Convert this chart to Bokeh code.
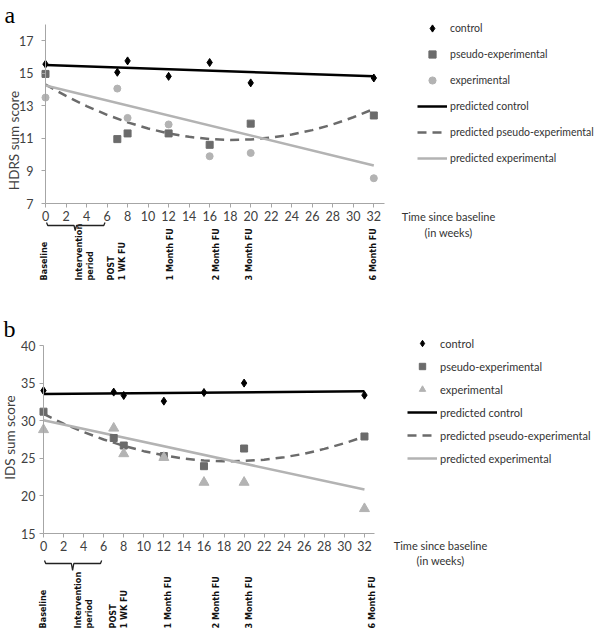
import math
from bokeh.plotting import figure
from bokeh.layouts import column
from bokeh.models import Range1d, FixedTicker, Legend, LegendItem, Label, PolyAnnotation
from bokeh.embed import file_html
from bokeh.resources import INLINE

# ---------------- data ----------------
weeks = [0, 7, 8, 12, 16, 20, 32]

hdrs_control = [15.55, 15.05, 15.75, 14.8, 15.65, 14.4, 14.7]
hdrs_pseudo = [14.95, 10.95, 11.3, 11.3, 10.6, 11.9, 12.4]
hdrs_experimental = [13.5, 14.05, 12.25, 11.85, 9.9, 10.1, 8.55]

line_weeks = [0, 32]
pred_weeks = [0, 2, 4, 6, 8, 10, 12, 14, 16, 18, 20, 22, 24, 26, 28, 30, 32]
hdrs_pred_control = [15.5, 14.8]
hdrs_pred_pseudo = [14.3, 13.6, 12.98, 12.44, 11.98, 11.6, 11.3, 11.09, 10.95,
                    10.9, 10.93, 11.04, 11.23, 11.5, 11.85, 12.29, 12.8]
hdrs_pred_experimental = [14.24, 9.33]

ids_control = [34.0, 33.8, 33.35, 32.6, 33.75, 35.0, 33.4]
ids_pseudo = [31.2, 27.7, 26.7, 25.3, 23.95, 26.3, 27.9]
ids_experimental = [28.8, 29.0, 25.6, 25.1, 21.8, 21.8, 18.3]
ids_pred_control = [33.55, 33.9]
ids_pred_pseudo = [30.9, 29.6, 28.5, 27.5, 26.65, 25.95, 25.4, 24.95, 24.7,
                   24.6, 24.65, 24.8, 25.15, 25.6, 26.25, 27.0, 27.9]
ids_pred_experimental = [30.05, 20.85]

x_ticks = [0, 2, 4, 6, 8, 10, 12, 14, 16, 18, 20, 22, 24, 26, 28, 30, 32]
hdrs_y_ticks = [7, 9, 11, 13, 15, 17]
ids_y_ticks = [15, 20, 25, 30, 35, 40]

milestone_labels = [["Baseline"], ["Intervention", "period"], ["POST", "1 WK FU"],
                    ["1 Month FU"], ["2 Month FU"], ["3 Month FU"], ["6 Month FU"]]
intervention_span = [0.1, 2.9, 5.8]   # weeks: start, middle, end of intervention

legend_labels = ["control", "pseudo-experimental", "experimental", "predicted control",
                 "predicted pseudo-experimental", "predicted experimental"]
time_text = ["Time since baseline", "(in weeks)"]

# ---------------- style ----------------
FONT = "Lato"
NARROW = "'DejaVu Sans Condensed', 'Liberation Sans Narrow', 'Roboto Condensed', Lato, sans-serif"
AXIS_GRAY = "#a6a6a6"
TICK_TEXT = "#404040"
BLACK = "#000000"
DARK = "#6b6b6b"
LIGHT = "#b3b3b3"
W = 600


def make_panel(letter, ylabel, cfg, ctrl, pseudo, expt, p_ctrl, p_pseudo, p_exp):
    H = cfg["height"]
    p = figure(width=W, height=H, output_backend="svg", toolbar_location=None,
               x_range=Range1d(*cfg["xr"]), y_range=Range1d(*cfg["yr"]),
               min_border=0, outline_line_color=None,
               background_fill_color="white", border_fill_color="white")
    p.grid.visible = False

    xa = p.xaxis[0]
    xa.ticker = FixedTicker(ticks=x_ticks)
    xa.bounds = (0, 33)
    xa.fixed_location = cfg["yb"][0]
    ya = p.yaxis[0]
    ya.ticker = FixedTicker(ticks=cfg["yticks"])
    ya.bounds = cfg["yb"]
    ya.fixed_location = 0
    for ax in (xa, ya):
        ax.axis_line_color = AXIS_GRAY
        ax.axis_line_width = 1
        ax.major_tick_line_color = AXIS_GRAY
        ax.major_tick_in = 0
        ax.major_tick_out = 4
        ax.minor_tick_line_color = None
        ax.major_label_text_font = FONT
        ax.major_label_text_font_size = "12.5px"
        ax.major_label_text_color = TICK_TEXT
    xa.major_label_standoff = 3
    ya.major_label_standoff = cfg["ystandoff"]

    # y-axis title (placed like the original, below the axis centre)
    yx, yy = cfg["ytitle"]
    p.add_layout(Label(x=yx, y=H - yy, x_units="screen", y_units="screen", text=ylabel,
                       angle=math.pi / 2, text_align="center", text_baseline="middle",
                       text_font=FONT, text_font_size="13.5px", text_color=TICK_TEXT))

    r_pc = p.line(line_weeks, p_ctrl, line_color=BLACK, line_width=2.5)
    r_pp = p.line(pred_weeks, p_pseudo, line_color=DARK, line_width=2.5, line_dash="9 6")
    r_pe = p.line(line_weeks, p_exp, line_color=LIGHT, line_width=2.5)
    r_c = p.scatter(weeks, ctrl, marker="diamond", size=8, color=BLACK)
    r_p = p.scatter(weeks, pseudo, marker="square", size=7, color=DARK)
    r_e = p.scatter(weeks, expt, marker=cfg["exp_marker"], size=cfg["exp_size"], color=LIGHT)

    rends = [r_c, r_p, r_e, r_pc, r_pp, r_pe]
    items = [LegendItem(label=lab, renderers=[r]) for lab, r in zip(legend_labels, rends)]
    leg = Legend(items=items, location=cfg["leg_loc"], padding=0, margin=0,
                 glyph_width=30, glyph_height=cfg["row_h"], label_height=cfg["row_h"],
                 spacing=cfg["row_sp"], label_standoff=3,
                 label_text_font=FONT, label_text_font_size=cfg["leg_font"],
                 label_text_color="#333333", border_line_color=None,
                 background_fill_alpha=0)
    p.add_layout(leg)

    # panel letter (screen coords, frame == whole figure)
    lx, ly = cfg["letter"]
    p.add_layout(Label(x=lx, y=H - ly, x_units="screen", y_units="screen",
                       text=letter, text_font="Liberation Serif", text_font_size="24px",
                       text_color="#000000", text_baseline="alphabetic"))

    # "Time since baseline (in weeks)"
    tx = cfg["time_x"]
    for line, ty in zip(time_text, cfg["time_y"]):
        p.add_layout(Label(x=tx, y=H - ty, x_units="screen", y_units="screen",
                           text=line, text_align="center", text_baseline="alphabetic",
                           text_font=FONT, text_font_size="11px", text_color="#333333"))

    # milestone labels (vertical, bottom aligned)
    for lines, mx in zip(milestone_labels, cfg["ms_x"]):
        n = len(lines)
        for i, line in enumerate(lines):
            sx = mx + (i - (n - 1) / 2) * 11
            p.add_layout(Label(x=sx, y=H - cfg["ms_bottom"], x_units="screen",
                               y_units="screen", text=line, angle=math.pi / 2,
                               text_align="left", text_baseline="middle",
                               text_font=NARROW, text_font_style="bold",
                               text_font_size="9px", text_color="#111111"))

    # intervention bracket
    yl, yu, yd = [H - v for v in cfg["br_y"]]
    a, m, b = intervention_span
    d = 0.12
    xs = [a, a + d, m - d, m, m + d, b - d, b]
    ys = [yu, yl, yl, yd, yl, yl, yu]
    xs = xs + xs[::-1]
    ys = ys + ys[::-1]
    p.add_layout(PolyAnnotation(xs=xs, ys=ys, xs_units="data", ys_units="screen",
                                fill_alpha=0, line_color="#222222", line_alpha=1.0,
                                line_width=1.3))
    return p


# top panel: x=0 at px 45, 10.26 px/week; y=17 at px 40, y=7 at px 203
H1 = 300
sx1, sy1 = 10.26, 163 / 10
top_cfg = dict(height=H1, xr=(-45 / sx1, (W - 45) / sx1),
               yr=(7 - (H1 - 203) / sy1, 17 + 40 / sy1), yb=(7, 18), yticks=hdrs_y_ticks,
               ystandoff=8, ytitle=(13, 140), exp_marker="circle", exp_size=7,
               leg_loc=(417, H1 - 167), row_h=18, row_sp=8, leg_font="10.5px",
               letter=(4, 14), time_x=448, time_y=(216, 232),
               ms_x=[43, 83.5, 116, 169.5, 215, 248, 372], ms_bottom=280,
               br_y=(225, 222, 230))
# bottom panel (coords relative to its own top at page y=300):
# x=0 at px 43, 10.03 px/week; y=40 at px 45, y=15 at px 233
H2 = 330
sx2, sy2 = 10.03, 188 / 25
bot_cfg = dict(height=H2, xr=(-43 / sx2, (W - 43) / sx2),
               yr=(15 - (H2 - 233) / sy2, 40 + 45 / sy2), yb=(15, 40), yticks=ids_y_ticks,
               ystandoff=4, ytitle=(9, 137), exp_marker="triangle", exp_size=10,
               leg_loc=(407, H2 - 166), row_h=16, row_sp=7, leg_font="11px",
               letter=(3, 28), time_x=440, time_y=(245, 260),
               ms_x=[42, 82.5, 117.5, 167, 215, 248, 371], ms_bottom=328,
               br_y=(263, 260, 270))

p1 = make_panel("a", "HDRS sum score", top_cfg, hdrs_control, hdrs_pseudo, hdrs_experimental,
                hdrs_pred_control, hdrs_pred_pseudo, hdrs_pred_experimental)
p2 = make_panel("b", "IDS sum score", bot_cfg, ids_control, ids_pseudo, ids_experimental,
                ids_pred_control, ids_pred_pseudo, ids_pred_experimental)

layout = column(p1, p2, spacing=0)
open("out.html", "w").write(file_html(layout, INLINE))
